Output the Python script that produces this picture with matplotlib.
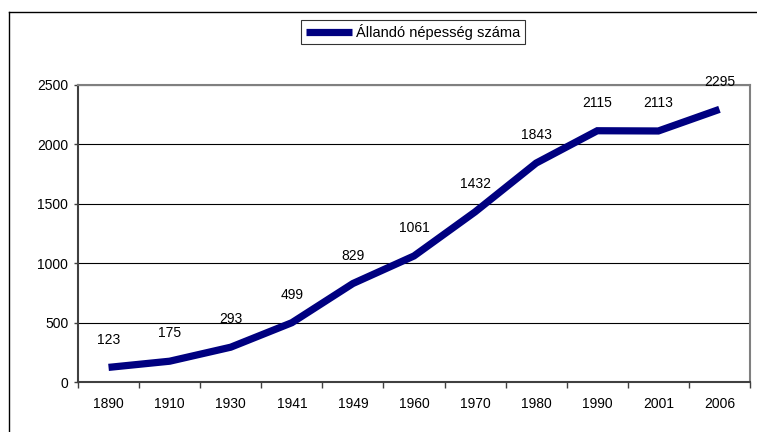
import matplotlib
matplotlib.use("Agg")
import matplotlib.pyplot as plt
from matplotlib.lines import Line2D
import numpy as np

years = ["1890", "1910", "1930", "1941", "1949", "1960", "1970", "1980", "1990", "2001", "2006"]
population = [123, 175, 293, 499, 829, 1061, 1432, 1843, 2115, 2113, 2295]
series_name = "Állandó népesség száma"
y_ticks = [0, 500, 1000, 1500, 2000, 2500]

plt.rcParams['font.family'] = ['Liberation Sans', 'DejaVu Sans']

W, H = 757, 432
fig = plt.figure(figsize=(W / 100, H / 100), dpi=100)
ax = fig.add_axes([78 / W, 1 - 382 / H, (750 - 78) / W, (382 - 85) / H])

x = np.arange(len(years))
ax.plot(x, population, color='#000080', linewidth=5.2, solid_joinstyle='miter',
        solid_capstyle='butt', zorder=3, label=series_name)

for xi, v in zip(x, population):
    ax.annotate(str(v), (xi, v), xytext=(0, 20), textcoords='offset points',
                ha='center', va='center', fontsize=10, color='black', zorder=4)

ax.set_xlim(-0.5, len(years) - 0.5)
ax.set_ylim(0, 2500)
ax.set_yticks(y_ticks)
ax.set_yticklabels([str(t) for t in y_ticks], fontsize=10)
ax.yaxis.grid(True, color='black', linewidth=0.8)
ax.set_axisbelow(True)

ax.set_xticks(np.arange(-0.5, len(years), 1.0))
ax.set_xticklabels([])
ax.set_xticks(x, minor=True)
ax.set_xticklabels(years, minor=True, fontsize=10)
ax.tick_params(axis='x', which='major', direction='out', length=4.5, width=1, color='#404040')
ax.tick_params(axis='x', which='minor', length=0, pad=11)
ax.tick_params(axis='y', direction='out', length=3, width=1, color='#404040', pad=4)

for side in ['top', 'right']:
    ax.spines[side].set_color('#808080')
    ax.spines[side].set_linewidth(1.5)
for side in ['left', 'bottom']:
    ax.spines[side].set_color('#404040')
    ax.spines[side].set_linewidth(1.5)

handle = Line2D([], [], color='#000080', linewidth=5.2, solid_capstyle='butt')
leg = fig.legend([handle], [series_name], loc='center',
                 bbox_to_anchor=(413 / W, 1 - 32 / H), fontsize=10.5,
                 frameon=True, fancybox=False, handlelength=3.2, handletextpad=0.25,
                 borderpad=0.3, borderaxespad=0)
leg.get_frame().set_edgecolor('black')
leg.get_frame().set_linewidth(0.8)

# outer chart border (top and left visible)
fig.add_artist(Line2D([9 / W, 9 / W], [0, 1 - 11.5 / H], transform=fig.transFigure,
                      color='black', linewidth=1))
fig.add_artist(Line2D([9 / W, 1.0], [1 - 11.5 / H, 1 - 11.5 / H], transform=fig.transFigure,
                      color='black', linewidth=1))

fig.savefig("out.png", dpi=100)
